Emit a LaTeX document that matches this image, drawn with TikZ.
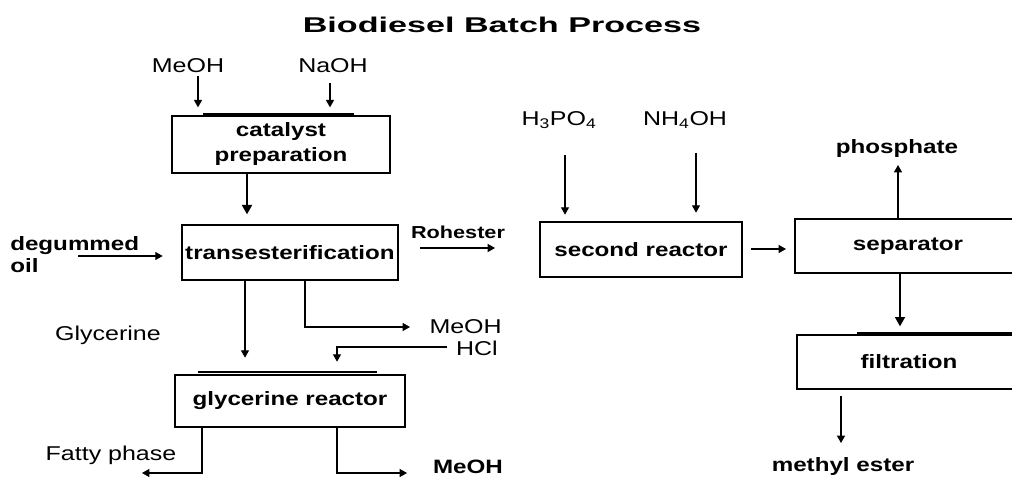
\documentclass[tikz,border=0pt]{standalone}
\usepackage{fontspec}
\setmainfont{Liberation Sans}[FakeStretch=1.25]
\newfontfamily\titlefont{Liberation Sans}[FakeStretch=1.6]
\usetikzlibrary{arrows.meta}
\begin{document}
\begin{tikzpicture}[x=0.75pt,y=-0.75pt,
  box/.style={draw,line width=1pt,inner sep=0pt,align=center,font=\fontsize{14.5}{18.75}\selectfont\bfseries},
  lbl/.style={inner sep=0pt,font=\fontsize{15}{16.5}\selectfont},
  blbl/.style={inner sep=0pt,font=\fontsize{14.5}{16.5}\selectfont\bfseries},
  arr/.style={line width=0.8pt,-{Triangle[length=5.5pt,width=6pt]}},
  bigarr/.style={line width=1.3pt,-{Triangle[length=7pt,width=7.5pt]}},
  bar/.style={line width=2.2pt}]
\useasboundingbox (0,0) rectangle (1012,477);
\clip (0,0) rectangle (1012,477);
\fill[white] (0,0) rectangle (1012,477);

% title
\node[inner sep=0pt,font=\titlefont\fontsize{16}{18}\selectfont\bfseries] (title) at (502,25) {Biodiesel Batch Process};

% boxes
\node[box,minimum width=163.5pt,minimum height=42.75pt] (cat) at (281,144.5) {catalyst\\preparation};
\node[box,minimum width=162pt,minimum height=41.25pt] (trans) at (290,252.5) {transesterification};
\node[box,minimum width=172.5pt,minimum height=39pt] (gly) at (290,401) {glycerine reactor};
\node[box,minimum width=151.5pt,minimum height=41.25pt] (second) at (641,249.5) {second reactor};
\node[box,minimum width=169.5pt,minimum height=40.5pt] (sep) at (908,246) {separator};
\node[box,minimum width=168pt,minimum height=40.5pt] (filt) at (909,362) {filtration};

% labels
\node[lbl] (meoh1) at (188,66) {MeOH};
\node[lbl] (naoh) at (333,66) {NaOH};
\node[blbl,align=left,anchor=west] (oil) at (10,255) {degummed\\oil};
\node[blbl,font=\fontsize{13}{15}\selectfont\bfseries] (roh) at (458,232) {Rohester};
\node[lbl] (glyc) at (108,335) {Glycerine};
\node[lbl,anchor=east] (meoh2) at (502,327) {MeOH};
\node[lbl,anchor=east] (hcl) at (498,348) {HCl};
\node[lbl] (fatty) at (111,455) {Fatty phase};
\node[blbl] (meoh3) at (468,467) {MeOH};
\node[lbl] (h3po4) at (559,120) {H\textsubscript{3}PO\textsubscript{4}};
\node[lbl] (nh4oh) at (685,120) {NH\textsubscript{4}OH};
\node[blbl] (phos) at (897,149) {phosphate};
\node[blbl] (mest) at (843,466) {methyl ester};

% coordinates
\coordinate (a1) at (198,76);
\coordinate (a2) at (330,83);
\coordinate (a3) at (247,173);
\coordinate (a4) at (78,256);
\coordinate (a5) at (420,248);
\coordinate (a5e) at (495,248);
\coordinate (a6) at (245,280);
\coordinate (a7) at (305,280);
\coordinate (a7c) at (305,327);
\coordinate (a7e) at (410,327);
\coordinate (a8) at (447,347);
\coordinate (a8c) at (337,347);
\coordinate (a9) at (202,427);
\coordinate (a9c) at (202,473);
\coordinate (a9e) at (142,473);
\coordinate (a10) at (337,427);
\coordinate (a10c) at (337,473);
\coordinate (a10e) at (407,473);
\coordinate (a11) at (565,155);
\coordinate (a12) at (696,153);
\coordinate (a13) at (898,165);
\coordinate (a14) at (900,273);
\coordinate (a15) at (841,396);
\coordinate (a15e) at (841,443);
\coordinate (a16) at (751,249);
\coordinate (a16e) at (786,249);

% bars
\draw[bar] (203,114.5) -- (354,114.5);
\draw[bar] (198,372) -- (377,372);
\draw[bar] (857,333.5) -- (1012,333.5);

% connectors
\draw[arr,shorten >=6pt] (a1) -- (a1 |- cat.north);
\draw[arr,shorten >=6pt] (a2) -- (a2 |- cat.north);
\draw[bigarr,shorten >=7.5pt] (a3) -- (a3 |- trans.north);
\draw[arr,shorten >=14pt] (a4) -- (a4 -| trans.west);
\draw[arr] (a5) -- (a5e);
\draw[arr,shorten >=12.5pt] (a6) -- (a6 |- gly.north);
\draw[arr] (a7) -- (a7c) -- (a7e);
\draw[arr,shorten >=9.5pt] (a8) -- (a8c) -- (a8c |- gly.north);
\draw[arr] (a9) -- (a9c) -- (a9e);
\draw[arr] (a10) -- (a10c) -- (a10e);
\draw[arr,shorten >=5pt] (a11) -- (a11 |- second.north);
\draw[arr,shorten >=6.5pt] (a12) -- (a12 |- second.north);
\draw[arr] (a16) -- (a16e);
\draw[arr] (a13 |- sep.north) -- (a13);
\draw[bigarr,shorten >=6pt] (a14) -- (a14 |- filt.north);
\draw[arr] (a15) -- (a15e);
\end{tikzpicture}
\end{document}
